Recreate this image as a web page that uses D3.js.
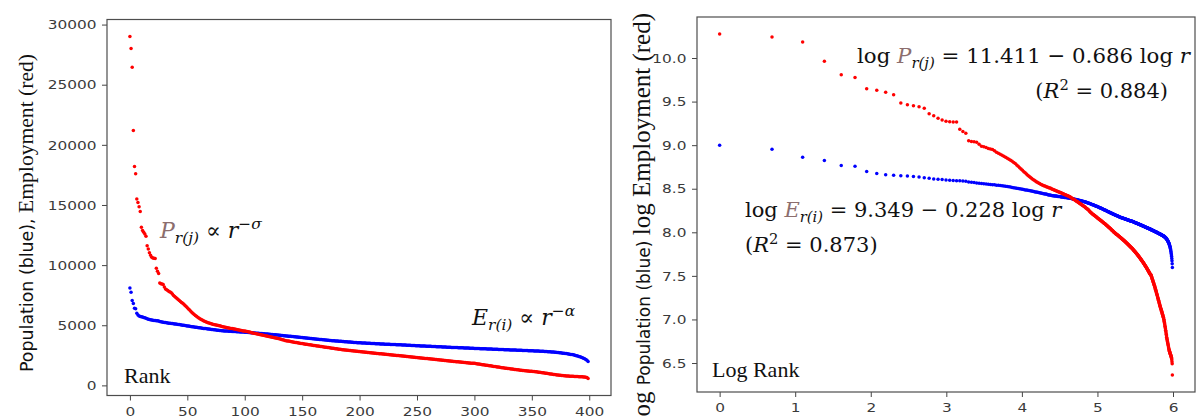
<!DOCTYPE html>
<html>
<head>
<meta charset="utf-8">
<script src="https://cdn.jsdelivr.net/npm/d3@7"></script>
<style>
  body { margin: 0; background: #fff; }
  svg { display: block; }
  .tick text { font-family: "DejaVu Sans", sans-serif; font-size: 13px; fill: #3a3a3a; }
  .tick line { stroke: #444; }
</style>
</head>
<body>
<svg id="chart" width="1196" height="417"></svg>
<script>
// employment (red), ranked 1..400
var employment = [
  29000, 28000, 26450, 21200, 18200, 17600, 15500, 15200, 14850, 14450, 13150, 12880, 12740, 12590, 12390, 11610, 11340, 11030, 10830, 10660,
  10600, 10580, 10560, 9730, 9480, 9300, 8520, 8460, 8430, 8390, 8180, 8010, 7960, 7880, 7800, 7760, 7700, 7590, 7480, 7390,
  7300, 7220, 7140, 7060, 6980, 6900, 6820, 6740, 6650, 6560, 6460, 6360, 6260, 6160, 6070, 5980, 5900, 5820, 5740, 5670,
  5600, 5540, 5480, 5430, 5380, 5330, 5290, 5250, 5215, 5180, 5150, 5120, 5090, 5065, 5040, 5015, 4995, 4975, 4955, 4935,
  4900, 4880, 4860, 4840, 4820, 4800, 4780, 4760, 4740, 4720, 4700, 4680, 4660, 4640, 4620, 4600, 4590, 4570, 4550, 4530,
  4520, 4500, 4480, 4460, 4430, 4410, 4385, 4360, 4340, 4320, 4300, 4275, 4250, 4230, 4210, 4190, 4165, 4140, 4120, 4100,
  4080, 4060, 4040, 4020, 4000, 3980, 3955, 3930, 3910, 3890, 3870, 3850, 3820, 3790, 3765, 3740, 3720, 3700, 3680, 3660,
  3645, 3630, 3610, 3590, 3575, 3560, 3540, 3520, 3505, 3490, 3475, 3460, 3445, 3430, 3415, 3400, 3385, 3370, 3355, 3340,
  3325, 3310, 3300, 3285, 3270, 3255, 3240, 3225, 3210, 3195, 3180, 3165, 3150, 3140, 3125, 3110, 3095, 3080, 3065, 3050,
  3040, 3025, 3010, 2995, 2980, 2970, 2955, 2945, 2935, 2925, 2915, 2905, 2895, 2885, 2875, 2865, 2850, 2840, 2830, 2820,
  2810, 2800, 2790, 2780, 2770, 2760, 2750, 2740, 2730, 2720, 2710, 2700, 2690, 2680, 2670, 2660, 2650, 2640, 2630, 2620,
  2610, 2600, 2590, 2580, 2570, 2560, 2550, 2540, 2530, 2520, 2510, 2505, 2495, 2485, 2475, 2465, 2455, 2445, 2435, 2425,
  2415, 2405, 2395, 2385, 2375, 2365, 2355, 2345, 2335, 2325, 2315, 2305, 2295, 2285, 2275, 2265, 2255, 2245, 2235, 2225,
  2215, 2205, 2195, 2185, 2175, 2165, 2155, 2145, 2135, 2125, 2115, 2105, 2095, 2085, 2075, 2065, 2055, 2045, 2035, 2025,
  2015, 2005, 1995, 1985, 1975, 1965, 1955, 1945, 1935, 1925, 1915, 1905, 1895, 1885, 1875, 1865, 1855, 1848, 1842, 1836,
  1830, 1815, 1800, 1785, 1770, 1755, 1740, 1725, 1710, 1695, 1680, 1665, 1650, 1640, 1625, 1610, 1595, 1580, 1565, 1550,
  1535, 1520, 1505, 1490, 1475, 1460, 1450, 1435, 1420, 1405, 1395, 1380, 1365, 1355, 1340, 1330, 1315, 1300, 1290, 1275,
  1265, 1255, 1245, 1235, 1225, 1215, 1205, 1195, 1185, 1175, 1165, 1155, 1145, 1135, 1125, 1115, 1100, 1090, 1075, 1060,
  1045, 1030, 1015, 1000, 985, 970, 955, 940, 925, 910, 895, 880, 870, 860, 850, 840, 830, 820, 810, 800,
  790, 782, 775, 768, 762, 756, 750, 745, 740, 735, 730, 725, 720, 715, 710, 700, 690, 675, 660, 580
];

// population (blue), ranked 1..400
var population = [
  8100, 7735, 7060, 6800, 6420, 6370, 5990, 5860, 5770, 5730, 5710, 5690, 5650, 5620, 5580, 5540, 5490, 5480, 5460, 5430,
  5410, 5400, 5390, 5380, 5370, 5350, 5310, 5300, 5280, 5250, 5230, 5220, 5200, 5190, 5170, 5160, 5150, 5140, 5120, 5110,
  5100, 5080, 5070, 5060, 5040, 5030, 5010, 4990, 4970, 4950, 4940, 4930, 4910, 4900, 4880, 4870, 4850, 4840, 4830, 4810,
  4800, 4790, 4770, 4760, 4740, 4730, 4720, 4710, 4690, 4680, 4670, 4650, 4640, 4630, 4620, 4610, 4590, 4580, 4570, 4560,
  4545, 4540, 4530, 4525, 4520, 4515, 4505, 4500, 4495, 4490, 4485, 4475, 4470, 4465, 4460, 4450, 4445, 4440, 4435, 4430,
  4425, 4415, 4410, 4400, 4390, 4385, 4375, 4370, 4360, 4355, 4345, 4340, 4330, 4320, 4315, 4305, 4300, 4290, 4280, 4275,
  4265, 4255, 4250, 4240, 4230, 4220, 4215, 4205, 4195, 4185, 4175, 4165, 4155, 4145, 4135, 4125, 4115, 4105, 4095, 4085,
  4075, 4065, 4055, 4045, 4035, 4025, 4015, 4005, 3995, 3985, 3975, 3965, 3955, 3945, 3935, 3925, 3915, 3905, 3895, 3885,
  3875, 3865, 3855, 3845, 3835, 3825, 3815, 3805, 3795, 3785, 3775, 3770, 3760, 3750, 3740, 3730, 3720, 3715, 3705, 3695,
  3690, 3680, 3675, 3665, 3660, 3650, 3645, 3635, 3630, 3620, 3615, 3605, 3600, 3590, 3585, 3575, 3570, 3560, 3555, 3545,
  3540, 3535, 3530, 3525, 3520, 3515, 3510, 3505, 3500, 3495, 3490, 3485, 3480, 3475, 3470, 3465, 3460, 3455, 3450, 3445,
  3440, 3435, 3430, 3425, 3420, 3415, 3410, 3405, 3400, 3395, 3395, 3390, 3385, 3380, 3380, 3375, 3370, 3365, 3360, 3355,
  3350, 3345, 3340, 3335, 3330, 3325, 3320, 3315, 3310, 3305, 3300, 3295, 3290, 3285, 3280, 3275, 3270, 3265, 3262, 3259,
  3255, 3250, 3246, 3241, 3236, 3232, 3227, 3222, 3218, 3213, 3208, 3204, 3199, 3194, 3190, 3185, 3180, 3176, 3171, 3166,
  3160, 3156, 3152, 3148, 3144, 3140, 3136, 3132, 3128, 3124, 3120, 3116, 3112, 3108, 3104, 3100, 3096, 3092, 3088, 3084,
  3075, 3072, 3068, 3064, 3060, 3056, 3052, 3048, 3044, 3040, 3036, 3032, 3028, 3024, 3020, 3016, 3012, 3008, 3004, 3000,
  2996, 2992, 2988, 2984, 2980, 2976, 2972, 2968, 2964, 2960, 2956, 2952, 2948, 2944, 2940, 2936, 2932, 2928, 2924, 2920,
  2916, 2912, 2908, 2904, 2900, 2896, 2892, 2888, 2884, 2880, 2876, 2872, 2868, 2864, 2860, 2855, 2850, 2845, 2840, 2835,
  2830, 2824, 2818, 2811, 2804, 2797, 2790, 2782, 2774, 2766, 2757, 2748, 2738, 2728, 2717, 2706, 2694, 2682, 2670, 2657,
  2643, 2628, 2612, 2595, 2577, 2558, 2538, 2516, 2492, 2466, 2438, 2408, 2375, 2340, 2300, 2255, 2205, 2150, 2080, 1990
];

var leftXTicks = [0, 50, 100, 150, 200, 250, 300, 350, 400];
var leftYTicks = [0, 5000, 10000, 15000, 20000, 25000, 30000];
var rightXTicks = [0, 1, 2, 3, 4, 5, 6];
var rightYTicks = [6.5, 7.0, 7.5, 8.0, 8.5, 9.0, 9.5, 10.0];

var svg = d3.select('#chart');
var brown = '#8c6e6e';
var serif = '"Liberation Serif", "Times New Roman", serif';
var mathFont = '"DejaVu Serif", serif';

// matplotlib-like padded extent
function padded(vals) {
  var ext = d3.extent(vals);
  var p = (ext[1] - ext[0]) * 0.05;
  return [ext[0] - p, ext[1] + p];
}

function panel(box, xs, ys, xTicks, yTicks, yFmt) {
  var x = d3.scaleLinear().domain(padded(xs)).range([box.x0, box.x1]);
  var y = d3.scaleLinear().domain(padded(ys.red.concat(ys.blue))).range([box.y1, box.y0]);

  var g = svg.append('g');

  g.append('g')
    .attr('transform', 'translate(0,' + box.y1 + ')')
    .call(d3.axisBottom(x).tickValues(xTicks).tickFormat(d3.format('d'))
      .tickSize(5).tickPadding(6).tickSizeOuter(0))
    .call(function(a) { a.select('.domain').remove(); })
    .selectAll('text').attr('transform', 'scale(1.18,1)');

  g.append('g')
    .attr('transform', 'translate(' + box.x0 + ',0)')
    .call(d3.axisLeft(y).tickValues(yTicks).tickFormat(yFmt).tickSize(5).tickPadding(4).tickSizeOuter(0))
    .call(function(a) { a.select('.domain').remove(); })
    .selectAll('text').attr('transform', 'scale(1.18,1)');

  g.append('rect')
    .attr('x', box.x0).attr('y', box.y0)
    .attr('width', box.x1 - box.x0).attr('height', box.y1 - box.y0)
    .attr('fill', 'none').attr('stroke', '#4d4d4d').attr('stroke-width', 1.2);

  [['blue', '#0000ff'], ['red', '#ff0000']].forEach(function(s) {
    g.append('g').selectAll('circle')
      .data(ys[s[0]])
      .enter().append('circle')
      .attr('cx', function(d, i) { return x(xs[i]); })
      .attr('cy', function(d) { return y(d); })
      .attr('r', 1.75)
      .attr('fill', s[1]);
  });
  return g;
}

// left panel: raw values against rank index
var idx = employment.map(function(d, i) { return i; });
panel({x0: 107, x1: 611, y0: 19.5, y1: 395.5}, idx,
  {red: employment, blue: population}, leftXTicks, leftYTicks, d3.format('d'));

// right panel: natural logs against log rank
var logRank = employment.map(function(d, i) { return Math.log(i + 1); });
panel({x0: 697, x1: 1195, y0: 17, y1: 392}, logRank,
  {red: employment.map(Math.log), blue: population.map(Math.log)},
  rightXTicks, rightYTicks, d3.format('.1f'));

// y labels (mixed fonts, as in the original)
var yl = svg.append('text')
  .attr('transform', 'translate(33,213) rotate(-90)')
  .attr('text-anchor', 'middle').attr('fill', '#111');
yl.append('tspan').attr('font-family', '"DejaVu Sans", sans-serif').attr('font-size', 17.4).text('Population (blue), ');
yl.append('tspan').attr('font-family', serif).attr('font-size', 21.6).text('Employment (red)');

var yr = svg.append('text')
  .attr('transform', 'translate(650,13) rotate(-90)')
  .attr('text-anchor', 'end').attr('fill', '#111');
yr.append('tspan').attr('font-family', serif).attr('font-size', 25).text('log ');
yr.append('tspan').attr('font-family', '"DejaVu Sans", sans-serif').attr('font-size', 17).text('Population (blue) ');
yr.append('tspan').attr('font-family', serif).attr('font-size', 25).text('log Employment (red)');

// corner labels
svg.append('text').attr('x', 124).attr('y', 383)
  .attr('font-family', serif).attr('font-size', 22).attr('fill', '#111').text('Rank');
svg.append('text').attr('x', 712).attr('y', 377)
  .attr('font-family', serif).attr('font-size', 22).attr('fill', '#111').text('Log Rank');

// math annotations
function math(x, y, size, parts, anchor) {
  var t = svg.append('text').attr('x', x).attr('y', y)
    .attr('font-family', mathFont).attr('font-size', size).attr('fill', '#111')
    .attr('text-anchor', anchor || 'start');
  parts.forEach(function(p) {
    var s = t.append('tspan').text(p.t);
    if (p.i) s.attr('font-style', 'italic');
    if (p.c) s.attr('fill', p.c);
    if (p.s) s.attr('font-size', size * p.s);
    if (p.dy) s.attr('dy', p.dy);
  });
  return t;
}

math(160, 238, 22, [
  {t: 'P', i: 1, c: brown}, {t: 'r(j)', i: 1, s: 0.7, dy: 5},
  {t: ' \u221D ', dy: -5}, {t: 'r', i: 1}, {t: '\u2212\u03C3', i: 1, s: 0.7, dy: -9}
]);
math(472, 325, 22, [
  {t: 'E', i: 1}, {t: 'r(i)', i: 1, s: 0.7, dy: 5},
  {t: ' \u221D ', dy: -5}, {t: 'r', i: 1}, {t: '\u2212\u03B1', i: 1, s: 0.7, dy: -9}
]);
math(857, 63, 21.3, [
  {t: 'log '}, {t: 'P', i: 1, c: brown}, {t: 'r(j)', i: 1, s: 0.7, dy: 5},
  {t: ' = 11.411 \u2212 0.686 log ', dy: -5}, {t: 'r', i: 1}
]);
math(1168, 98, 21, [
  {t: '('}, {t: 'R', i: 1}, {t: '2', s: 0.7, dy: -8}, {t: ' = 0.884)', dy: 8}
], 'end');
math(745, 217, 21, [
  {t: 'log '}, {t: 'E', i: 1, c: brown}, {t: 'r(i)', i: 1, s: 0.7, dy: 5},
  {t: ' = 9.349 \u2212 0.228 log ', dy: -5}, {t: 'r', i: 1}
]);
math(745, 252, 21, [
  {t: '('}, {t: 'R', i: 1}, {t: '2', s: 0.7, dy: -8}, {t: ' = 0.873)', dy: 8}
]);
</script>
</body>
</html>
